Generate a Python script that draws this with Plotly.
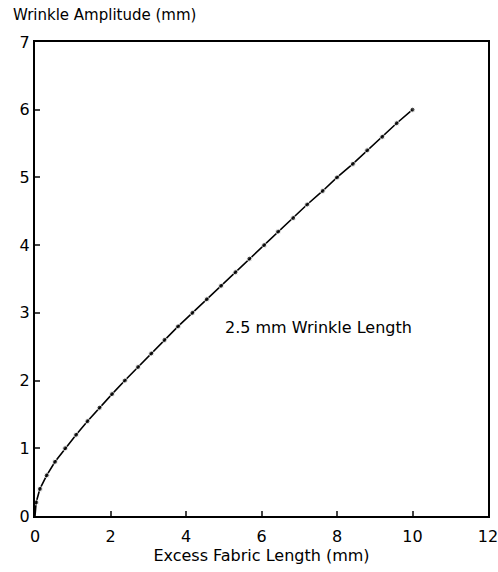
import plotly.graph_objects as go

# Data
amplitude = [0.0, 0.2, 0.4, 0.6, 0.8, 1.0, 1.2, 1.4, 1.6, 1.8, 2.0, 2.2, 2.4, 2.6, 2.8, 3.0,
             3.2, 3.4, 3.6, 3.8, 4.0, 4.2, 4.4, 4.6, 4.8, 5.0, 5.2, 5.4, 5.6, 5.8, 6.0]
excess_length = [0.0, 0.03, 0.13, 0.31, 0.53, 0.80, 1.09, 1.39, 1.71, 2.04, 2.38, 2.73, 3.08,
                 3.43, 3.79, 4.17, 4.55, 4.93, 5.31, 5.68, 6.07, 6.44, 6.84, 7.21, 7.62,
                 8.00, 8.42, 8.80, 9.20, 9.58, 10.0]
x_ticks = [0, 2, 4, 6, 8, 10, 12]
y_ticks = [0, 1, 2, 3, 4, 5, 6, 7]
label = "2.5 mm Wrinkle Length"

marker_sizes = [0] + [5] * (len(amplitude) - 1)

FONT = "DejaVu Sans, Arial, sans-serif"

fig = go.Figure()
fig.add_trace(go.Scatter(
    x=excess_length, y=amplitude, mode="lines+markers",
    line=dict(color="black", width=1.6),
    marker=dict(color="black", size=marker_sizes),
    showlegend=False,
))

fig.add_annotation(x=7.5, y=2.78, xref="x", yref="y", text=label, showarrow=False,
                   font=dict(family=FONT, size=16, color="black"))
fig.add_annotation(x=-0.053, y=1.057, xref="paper", yref="paper", xanchor="left", yanchor="middle",
                   text="Wrinkle Amplitude (mm)", showarrow=False,
                   font=dict(family=FONT, size=15, color="black"))

fig.update_layout(
    width=498, height=572,
    margin=dict(l=35, r=10, t=42, b=56),
    plot_bgcolor="white", paper_bgcolor="white",
    font=dict(family=FONT, size=16, color="black"),
)
fig.update_xaxes(
    range=[0, 12], tickvals=x_ticks, ticks="inside", ticklen=5, tickwidth=1.5,
    showgrid=False, zeroline=False, showline=True, linecolor="black", linewidth=2, mirror=True,
    title=dict(text="Excess Fabric Length (mm)", font=dict(size=16), standoff=5),
    tickfont=dict(size=16), automargin=False, ticklabeloverflow="allow",
    ticklabelstandoff=5,
)
fig.update_yaxes(
    range=[0, 7], tickvals=y_ticks, ticks="inside", ticklen=5, tickwidth=1.5,
    showgrid=False, zeroline=False, showline=True, linecolor="black", linewidth=2, mirror=True,
    tickfont=dict(size=16), automargin=False, ticklabeloverflow="allow",
)

fig.write_html("out.html",
               config={"displayModeBar": False},
               post_script="document.body.style.margin='0';document.body.style.overflow='hidden';")
